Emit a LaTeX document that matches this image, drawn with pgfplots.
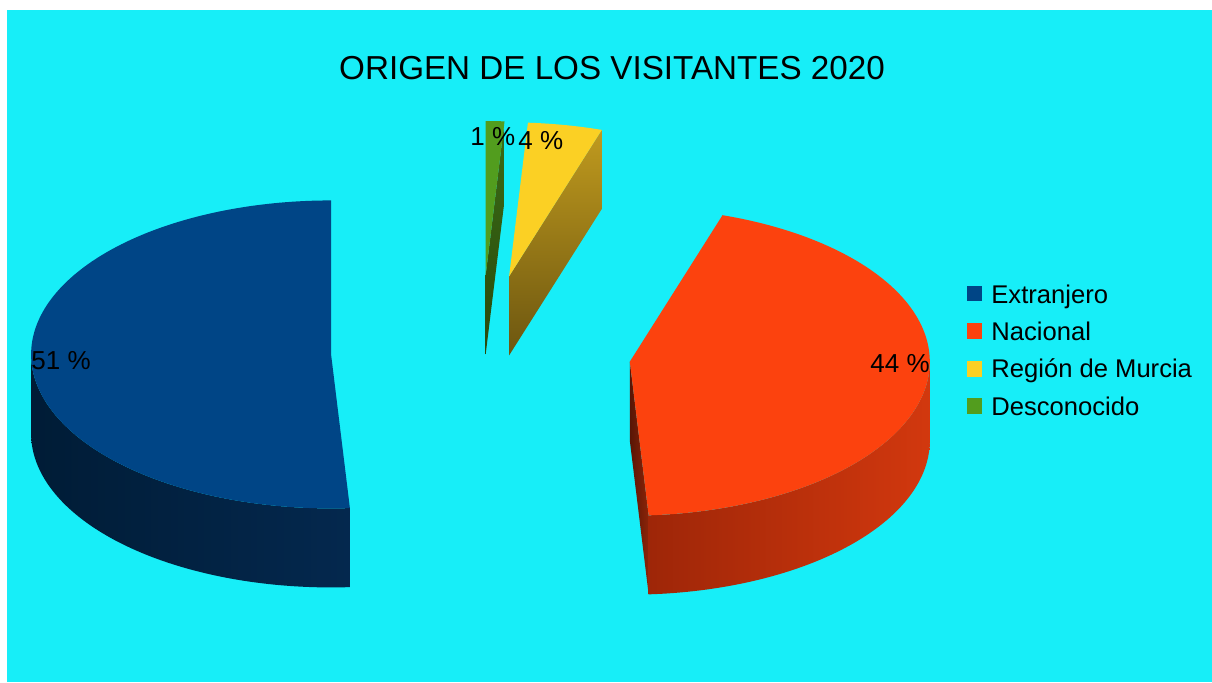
\documentclass[border=0pt]{standalone}
\usepackage{fontspec}
\setmainfont{Liberation Sans}
\usepackage{pgfplots}
\usepackage{pgfplotstable}
\pgfplotsset{compat=1.18}

\definecolor{bgcyan}{HTML}{17EEF8}
\definecolor{cA}{HTML}{004586}
\definecolor{cB}{HTML}{FC420E}
\definecolor{cC}{HTML}{FBD024}
\definecolor{cD}{HTML}{529D1E}

\pgfplotstableread{
label value
Extranjero 51
Nacional 44
Murcia 4
Desconocido 1
}\piedata

\begin{document}
\begin{tikzpicture}
\pgfplotstablegetelem{0}{value}\of\piedata \let\vA\pgfplotsretval
\pgfplotstablegetelem{1}{value}\of\piedata \let\vB\pgfplotsretval
\pgfplotstablegetelem{2}{value}\of\piedata \let\vC\pgfplotsretval
\pgfplotstablegetelem{3}{value}\of\piedata \let\vD\pgfplotsretval
% angles (start at top, counterclockwise)
\pgfmathsetmacro\tA{90}
\pgfmathsetmacro\tB{\tA+3.6*\vA}
\pgfmathsetmacro\tC{\tB+3.6*\vB}
\pgfmathsetmacro\tD{\tC+3.6*\vC}
\pgfmathsetmacro\tE{\tD+3.6*\vD}
% geometry (pixel units, y downwards)
\def\cx{481}\def\cy{352}\def\ra{300}\def\rb{154}\def\ex{0.5}\def\dep{79}
\pgfmathsetmacro\xA{\cx+\ex*\ra*cos((\tA+\tB)/2)}\pgfmathsetmacro\yA{\cy-\ex*\rb*sin((\tA+\tB)/2)}
\pgfmathsetmacro\xB{\cx+\ex*\ra*cos((\tB+\tC)/2)}\pgfmathsetmacro\yB{\cy-\ex*\rb*sin((\tB+\tC)/2)}
\pgfmathsetmacro\xC{\cx+\ex*\ra*cos((\tC+\tD)/2)}\pgfmathsetmacro\yC{\cy-\ex*\rb*sin((\tC+\tD)/2)}
\pgfmathsetmacro\xD{\cx+\ex*\ra*cos((\tD+\tE)/2)}\pgfmathsetmacro\yD{\cy-\ex*\rb*sin((\tD+\tE)/2)}
% radial faces
\pgfmathsetmacro\yAd{\yA+\dep}
\pgfmathsetmacro\yBd{\yB+\dep}
\pgfmathsetmacro\yCd{\yC+\dep}
\pgfmathsetmacro\yDd{\yD+\dep}
\pgfmathsetmacro\pBx{\xB+\ra*cos(\tB)}\pgfmathsetmacro\pBy{\yB-\rb*sin(\tB)}\pgfmathsetmacro\pByd{\pBy+\dep}
\pgfmathsetmacro\pCx{\xC+\ra*cos(\tC)}\pgfmathsetmacro\pCy{\yC-\rb*sin(\tC)}\pgfmathsetmacro\pCyd{\pCy+\dep}
\pgfmathsetmacro\pDx{\xD+\ra*cos(\tD)}\pgfmathsetmacro\pDy{\yD-\rb*sin(\tD)}\pgfmathsetmacro\pDyd{\pDy+\dep}
% visible outer side ranges
\pgfmathsetmacro\sAs{180}\pgfmathsetmacro\sAw{\tB-180}
\pgfmathsetmacro\sBs{\tB}\pgfmathsetmacro\sBw{360-\tB}
% parameter along side outline: 0..1 top arc, 1.01..2.01 bottom arc backwards
\pgfmathdeclarefunction{sidep}{1}{\pgfmathparse{(#1<1.005)*min(#1,1)+(#1>=1.005)*max(0,min(1,2.01-#1))}}
\begin{axis}[
  width=606pt, height=341pt, scale only axis,
  xmin=0, xmax=1212, ymin=0, ymax=682, y dir=reverse,
  hide axis, clip=false,
]
% background
\addplot[fill=white, draw=none] coordinates {(0,0) (1212,0) (1212,682) (0,682)} -- cycle;
\addplot[fill=bgcyan, draw=none] coordinates {(7,10) (1212,10) (1212,682) (7,682)} -- cycle;

% ---- Desconocido (green)
\addplot[draw=none, top color={rgb,255:red,60;green,108;blue,22}, bottom color={rgb,255:red,40;green,74;blue,12}]
  coordinates {(\xD,\yD) (\pDx,\pDy) (\pDx,\pDyd) (\xD,\yDd)} -- cycle;
\addplot[fill=cD, draw=none, domain=\tD:\tE, samples=20]
  ({\xD+\ra*cos(x)},{\yD-\rb*sin(x)}) -- (axis cs:\xD,\yD) -- cycle;

% ---- Region de Murcia (yellow)
\addplot[draw=none, top color={rgb,255:red,192;green,154;blue,30}, bottom color={rgb,255:red,108;green,86;blue,16}]
  coordinates {(\xC,\yC) (\pCx,\pCy) (\pCx,\pCyd) (\xC,\yCd)} -- cycle;
\addplot[fill=cC, draw=none, domain=\tC:\tD, samples=30]
  ({\xC+\ra*cos(x)},{\yC-\rb*sin(x)}) -- (axis cs:\xC,\yC) -- cycle;

% ---- Extranjero (blue)
\addplot[draw=none, left color={rgb,255:red,0;green,28;blue,54}, right color={rgb,255:red,4;green,40;blue,78}, domain=0:2.02, samples=203]
  ({\xA+\ra*cos(\sAs+\sAw*sidep(x))},{\yA-\rb*sin(\sAs+\sAw*sidep(x))+\dep*(x>=1.005)}) -- cycle;
\addplot[fill=cA, draw=none, domain=\tA:\tB, samples=150]
  ({\xA+\ra*cos(x)},{\yA-\rb*sin(x)}) -- (axis cs:\xA,\yA) -- cycle;

% ---- Nacional (orange)
\addplot[draw=none, left color={rgb,255:red,88;green,22;blue,6}, right color={rgb,255:red,140;green,36;blue,8}]
  coordinates {(\xB,\yB) (\pBx,\pBy) (\pBx,\pByd) (\xB,\yBd)} -- cycle;
\addplot[draw=none, left color={rgb,255:red,158;green,38;blue,8}, right color={rgb,255:red,210;green,56;blue,14}, domain=0:2.02, samples=203]
  ({\xB+\ra*cos(\sBs+\sBw*sidep(x))},{\yB-\rb*sin(\sBs+\sBw*sidep(x))+\dep*(x>=1.005)}) -- cycle;
\addplot[fill=cB, draw=none, domain=\tB:\tC, samples=150]
  ({\xB+\ra*cos(x)},{\yB-\rb*sin(x)}) -- (axis cs:\xB,\yB) -- cycle;

% ---- data labels
\node[anchor=base west, inner sep=0pt, font=\fontsize{13}{15}\selectfont] at (axis cs:31,369) {51 \%};
\node[anchor=base west, inner sep=0pt, font=\fontsize{13}{15}\selectfont] at (axis cs:870,372) {44 \%};
\node[anchor=base west, inner sep=0pt, font=\fontsize{13}{15}\selectfont] at (axis cs:518,149) {4 \%};
\node[anchor=base west, inner sep=0pt, font=\fontsize{13}{15}\selectfont] at (axis cs:470,145) {1 \%};

% ---- title
\node[anchor=base, inner sep=0pt, font=\fontsize{16.6}{20}\selectfont] at (axis cs:612,79) {ORIGEN DE LOS VISITANTES 2020};

% ---- legend
\addplot[only marks, mark=square*, mark size=3.6pt, color=cA] coordinates {(974.5,293.5)};
\addplot[only marks, mark=square*, mark size=3.6pt, color=cB] coordinates {(974.5,331)};
\addplot[only marks, mark=square*, mark size=3.6pt, color=cC] coordinates {(974.5,369)};
\addplot[only marks, mark=square*, mark size=3.6pt, color=cD] coordinates {(974.5,406)};
\node[anchor=base west, inner sep=0pt, font=\fontsize{12.8}{14}\selectfont] at (axis cs:991,303) {Extranjero};
\node[anchor=base west, inner sep=0pt, font=\fontsize{12.8}{14}\selectfont] at (axis cs:991,340) {Nacional};
\node[anchor=base west, inner sep=0pt, font=\fontsize{12.8}{14}\selectfont] at (axis cs:991,377) {Región de Murcia};
\node[anchor=base west, inner sep=0pt, font=\fontsize{12.8}{14}\selectfont] at (axis cs:991,415) {Desconocido};
\end{axis}
\end{tikzpicture}
\end{document}
